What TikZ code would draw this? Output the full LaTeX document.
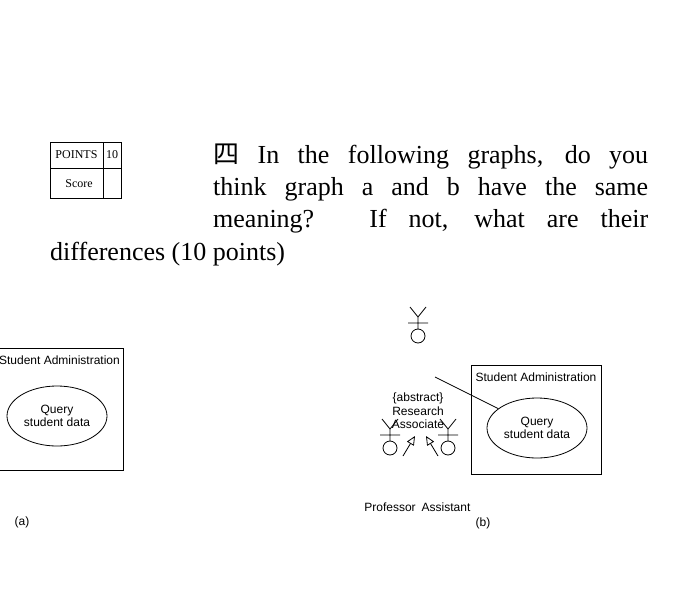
\documentclass[tikz,border=0pt]{standalone}
\usepackage{fontspec}
\setmainfont{Liberation Serif}
\setsansfont{Liberation Sans}
\newfontfamily\cjk{Noto Sans CJK SC}
\usetikzlibrary{arrows.meta,shapes.geometric}
\tikzset{
  uml/.style={font=\sffamily\fontsize{12}{13.5}\selectfont,align=center,inner sep=0pt},
  usecase/.style={draw,ellipse,minimum width=100pt,minimum height=60pt,thick,uml},
  sysbox/.style={draw,thick},
  gen/.style={-{Triangle[open,length=9pt,width=8pt]},thick},
  big/.style={font=\fontsize{26}{32}\selectfont,inner sep=0pt,anchor=base west},
  pics/actor/.style={code={
    \draw[thick] (0,-7) circle (7pt);
    \draw[thick] (0,-14) -- (0,-26) (-10,-20) -- (10,-20) (-8,-36) -- (0,-26) -- (8,-36);
  }}
}
\begin{document}
\begin{tikzpicture}[x=1pt,y=-1pt]
\useasboundingbox (0,0) rectangle (700,591);
% score table
\draw[thick] (50,142) rectangle (121,198) (50,168) -- (121,168) (103,142) -- (103,198);
\node[font=\fontsize{12}{13}\selectfont] (pts) at (76.5,155) {POINTS};
\node[font=\fontsize{12}{13}\selectfont] (ten) at (112,155) {10};
\node[font=\fontsize{12}{13}\selectfont] (score) at (79,184) {Score};
% question text
\node[big] (l1) at (213,163) {\makebox[435pt][s]{{\cjk 四} In the following graphs, do you}};
\node[big] (l2) at (213,195) {\makebox[435pt][s]{think graph a and b have the same}};
\node[big] (l3) at (213,227) {\makebox[435pt][s]{meaning? If not, what are their}};
\node[big] (l4) at (50,260) {differences (10 points)};
% diagram (a)
\begin{scope}
\clip (0,300) rectangle (700,591);
\draw[sysbox] (-60,348) rectangle (123,470);
\node[uml,anchor=east] (satitle) at (120,360) {Student Administration};
\node[usecase] (qa) at (57,416) {Query\\student data};
\end{scope}
\node[uml] (la) at (22,522) {(a)};
% diagram (b)
\draw[sysbox] (471,365) rectangle (601,474);
\node[uml] (sbtitle) at (536,377) {Student Administration};
\node[usecase] (qb) at (537,428) {Query\\student data};
\pic at (418,343) {actor};
\coordinate (ra) at (435,377);
\node[uml] (ralabel) at (418,411) {\{abstract\}\\Research\\Associate};
\pic at (390,455) {actor};
\pic at (448,455) {actor};
\node[uml] (prof) at (390,507) {Professor};
\node[uml] (asst) at (446,507) {Assistant};
\coordinate (pt) at (403,456);
\coordinate (at) at (438,456);
\draw[thick] (ra) -- (qb);
\draw[gen] (pt) -- (415,436);
\draw[gen] (at) -- (426,436);
\node[uml] (lb) at (483,523) {(b)};
\end{tikzpicture}
\end{document}
